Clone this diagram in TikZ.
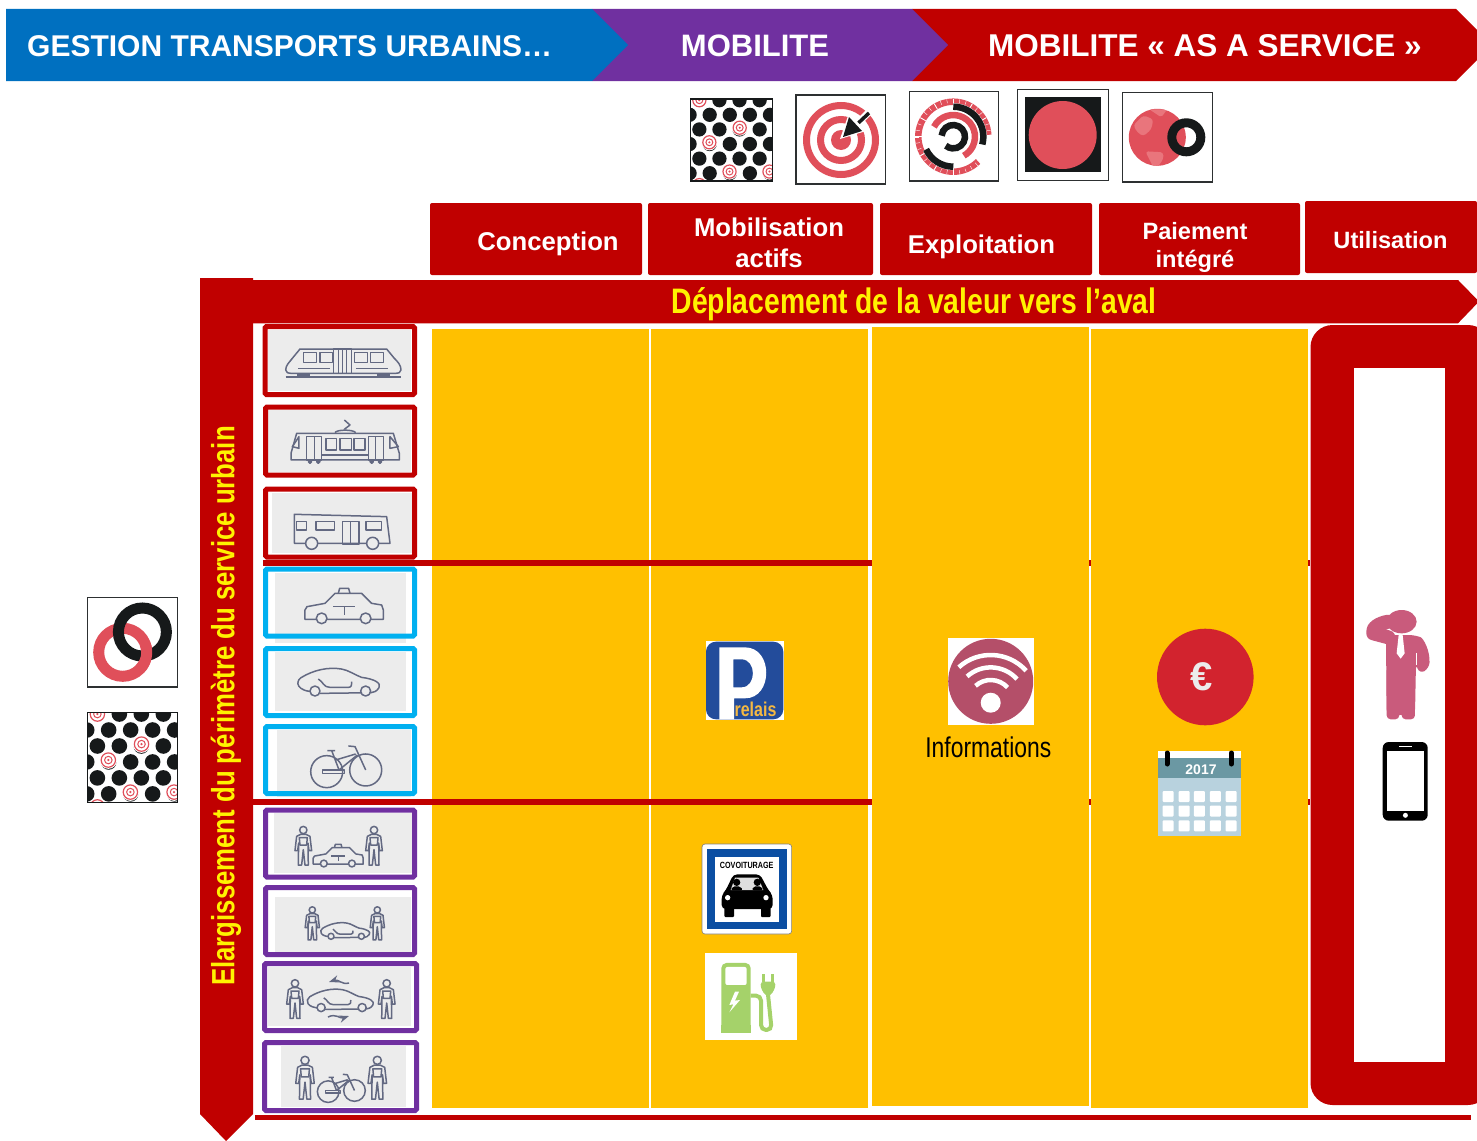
\documentclass[tikz,border=0pt]{standalone}
\usepackage{fontspec}
\setmainfont{Liberation Sans}
\newfontfamily\narrowfont[FakeStretch=0.8]{Liberation Sans}
\usetikzlibrary{arrows.meta}
\usetikzlibrary{calc}
\tikzset{>=Stealth}
\definecolor{darkred}{HTML}{C00000}
\definecolor{headblue}{HTML}{0070C0}
\definecolor{headpurple}{HTML}{7030A0}
\definecolor{colyellow}{HTML}{FFC000}
\definecolor{lightblue}{HTML}{00B0F0}
\definecolor{iconred}{HTML}{E04F5A}
\definecolor{globelight}{HTML}{E9757C}
\definecolor{iconblack}{HTML}{16191A}
\definecolor{boxgrey}{HTML}{ECECEC}
\definecolor{iconline}{HTML}{636982}
\definecolor{pink}{HTML}{C95B7C}
\definecolor{wifired}{HTML}{B44F69}
\definecolor{parkblue}{HTML}{234C9B}
\definecolor{signblue}{HTML}{0B4EA2}
\definecolor{plugreen}{HTML}{A5D26A}
\definecolor{euroRed}{HTML}{D2232E}
\definecolor{relaisgold}{HTML}{F5B942}
\definecolor{headteal}{HTML}{6B98A3}
\definecolor{bodyblue}{HTML}{B8D2DE}
\tikzset{
    headtext/.style={text=white, font=\fontsize{31}{31}\selectfont\bfseries, inner sep=0pt},
    colbox/.style={fill=darkred, rounded corners=2pt, inner sep=0pt, minimum height=72pt},
    coltext/.style={text=white, align=center, inner sep=0pt, font=\fontsize{25.7}{31}\selectfont\bfseries},
    yellowtext/.style={text=yellow, inner sep=0pt, font=\fontsize{35.4}{35.4}\selectfont\narrowfont\bfseries},
    iconframe/.style={draw=iconblack!90!white, line width=1.2pt, fill=white},
    vehicle/.style={draw=iconline, line width=1.5pt, line join=round},
    pics/dotpattern/.style={code={
        \begin{scope}
            \clip (0,0) rectangle (1,1);
            \foreach \r in {0,2,4,6}
                \foreach \c in {0,1,2,3}
                    \fill[iconblack] ({0.108+\c*0.245},{0.015+\r*0.178}) circle (0.087);
            \foreach \r in {1,3,5}
                \foreach \c in {0,1,2,3,4}
                    \fill[iconblack] ({-0.011+\c*0.245},{0.015+\r*0.178}) circle (0.087);
            \foreach \px/\py in {0.108/0.015, 0.6/0.35, 0.23/0.528, 0.476/0.885, 0.963/0.885, 0.108/1.05} {
                \fill[white] (\px,\py) circle (0.098);
                \draw[iconred, line width=1.2pt] (\px,\py) circle (0.08);
                \draw[iconred, line width=1pt] (\px,\py) circle (0.042);
                \fill[iconred] (\px,\py) circle (0.014);
            }
        \end{scope}
        \draw[iconblack, line width=1.2pt] (0,0) rectangle (1,1);
    }},
    pics/train/.style={code={
        \draw[vehicle] (92,150) .. controls (92,135) and (105,125) .. (112,115) -- (135,87) -- (395,87) -- (418,115) .. controls (428,125) and (438,135) .. (438,150) .. controls (438,158) and (430,160) .. (420,160) -- (110,160) .. controls (100,160) and (92,158) .. cycle;
        \foreach \xa/\xb in {145/185, 195/232, 298/337, 347/385}
            \draw[vehicle] (\xa,97) rectangle (\xb,127);
        \draw[vehicle] (235,87) rectangle (290,160);
        \draw[vehicle] (250,87) -- (250,160) (275,87) -- (275,160) (263,87) -- (263,160);
        \draw[vehicle] (130,145) -- (225,145) (303,145) -- (400,145);
        \draw[vehicle, line width=1.8pt] (92,170) -- (438,170);
        \draw[vehicle, line width=2.5pt] (125,164) -- (165,164) (365,164) -- (405,164);
    }},
    pics/tram/.style={code={
        \draw[vehicle] (125,340) -- (415,340) -- (433,400) -- (433,420) -- (108,420) -- (108,400) -- cycle;
        \draw[vehicle] (240,338) .. controls (245,328) and (295,328) .. (302,338);
        \draw[vehicle] (268,300) -- (285,315) -- (268,328);
        \draw[vehicle] (112,380) -- (132,350) -- (132,385) -- cycle (430,380) -- (405,350) -- (405,385) -- cycle;
        \foreach \xa/\xb in {155/178, 178/200, 340/362, 362/385}
            \draw[vehicle] (\xa,350) rectangle (\xb,420);
        \foreach \xa/\xb in {213/245, 255/290, 297/330}
            \draw[vehicle] (\xa,355) rectangle (\xb,390);
        \draw[vehicle] (200,405) -- (340,405);
        \foreach \xa in {165,190,350,375}
            \draw[vehicle, fill=iconline] (\xa,425) circle (5);
    }},
    pics/bus/.style={code={
        \draw[vehicle] (118,670) -- (118,583) -- (395,590) -- (405,670) -- cycle;
        \draw[vehicle] (125,605) rectangle (155,630);
        \draw[vehicle] (183,605) rectangle (238,630);
        \draw[vehicle] (333,605) rectangle (380,630);
        \draw[vehicle] (262,605) rectangle (312,672);
        \draw[vehicle] (287,605) -- (287,672);
        \draw[vehicle, fill=boxgrey] (170,670) circle (18);
        \draw[vehicle, fill=boxgrey] (353,670) circle (18);
    }},
    pics/taxi/.style={code={
        \draw[vehicle] (-118,43) -- (-118,15) -- (-112,5) -- (-58,-5) -- (-28,-35) -- (52,-35) -- (82,-5) -- (112,0) -- (117,15) -- (117,43) -- cycle;
        \draw[vehicle] (-18,-35) -- (-14,-50) -- (13,-50) -- (17,-35);
        \draw[vehicle] (-33,5) -- (32,5) (0,5) -- (0,30);
        \draw[vehicle, fill=boxgrey] (-68,40) circle (16);
        \draw[vehicle, fill=boxgrey] (64,40) circle (16);
    }},
    pics/sedan/.style={code={
        \draw[vehicle] (-70,30) .. controls (-125,30) and (-130,0) .. (-112,-12) .. controls (-75,-35) and (-30,-45) .. (10,-38) .. controls (30,-35) and (50,-20) .. (70,-13) .. controls (110,-8) and (130,5) .. (122,18) .. controls (115,30) and (105,32) .. (98,33) -- (-55,35);
        \draw[vehicle] (-60,-8) .. controls (-45,0) and (-45,17) .. (-25,17) -- (30,17) .. controls (40,17) and (40,10) .. (40,0);
        \draw[vehicle, fill=boxgrey] (-70,28) circle (15);
        \draw[vehicle, fill=boxgrey] (82,28) circle (15);
    }},
    pics/bike/.style={code={
        \draw[vehicle] (-57,25) circle (48);
        \draw[vehicle] (60,20) circle (48);
        \draw[vehicle] (-55,-38) -- (-32,-38) (-42,-38) -- (-20,20);
        \draw[vehicle] (-30,-10) -- (30,-28) (-20,20) -- (35,-25);
        \draw[vehicle] (8,-52) -- (28,-50) -- (60,20);
        \draw[vehicle] (-70,20) rectangle (-3,30);
    }},
    pics/person/.style={code={
        \draw[vehicle] (0,-47) circle (11);
        \draw[vehicle] (-8,-34) -- (-20,-28) -- (-25,15) -- (-17,15) -- (-14,-8) -- (-15,58) -- (-5,58) -- (0,12) -- (5,58) -- (15,58) -- (14,-8) -- (17,15) -- (25,15) -- (20,-28) -- (8,-34) -- cycle;
        \draw[vehicle] (-12,-24) -- (12,-24) -- (10,-2) -- (-10,-2) -- cycle;
    }},
    pics/targeticon/.style={code={
        \draw[iconred, line width=7pt] (0,0) circle (34.5);
        \draw[iconred, line width=7pt] (0,0) circle (20.5);
        \fill[iconred] (0,0) circle (10);
        \draw[white, line width=7pt] (6,-6) -- (30,-30);
        \draw[iconblack, line width=3.5pt] (12,-12) -- (28,-27);
        \fill[white] (-1,-1) -- (25,-9) -- (8,-27) -- cycle;
        \fill[iconblack] (2,-3) -- (21,-9) -- (8,-23) -- cycle;
    }},
    pics/dashicon/.style={code={
        \draw[iconred, line width=6.5pt] (45:35) arc[start angle=45, end angle=357, radius=35];
        \foreach \a in {50,60,...,350}
            \draw[white, line width=0.4pt] (\a:34) -- (\a:38);
        \foreach \a in {90,120,...,330}
            \draw[white, line width=0.8pt] (\a:31.7) -- (\a:38);
        \draw[white, line width=8pt] (270:29.5) arc[start angle=270, end angle=375, radius=29.5];
        \draw[white, line width=8pt] (90:29.5) arc[start angle=90, end angle=155, radius=29.5];
        \draw[iconblack, line width=6.5pt] (270:30) arc[start angle=270, end angle=375, radius=30];
        \draw[iconblack, line width=6.5pt] (90:30) arc[start angle=90, end angle=155, radius=30];
        \draw[iconred, line width=6.5pt] (207:21.7) arc[start angle=207, end angle=421, radius=21.7];
        \draw[iconblack, line width=6.5pt] (185:11.7) arc[start angle=185, end angle=490, radius=11.7];
    }},
    pics/globeicon/.style={code={
        \begin{scope}
            \fill[iconred] (0,0) circle (28.5);
            \clip (0,0) circle (28.5);
            \fill[globelight, rounded corners=3pt] (-24,-12) -- (-14,-22) -- (-4,-18) -- (-6,-8) -- (-14,-1) -- (-20,-5) -- cycle;
            \fill[globelight, rounded corners=3pt] (-12,14) -- (6,15) -- (6,22) -- (0,30) -- (-4,30) -- cycle;
            \fill[globelight, rounded corners=2pt] (-8,-28) -- (10,-28) -- (4,-20) -- cycle;
        \end{scope}
        \draw[iconblack, line width=9pt] (29,0) circle (14.5);
    }},
    pics/ringsicon/.style={code={
        \draw[iconred, line width=11pt] (0,0) circle (24);
        \draw[iconblack, line width=11pt] (19.7,-20.3) circle (24);
        \draw[iconred, line width=11pt] (-20:24) arc[start angle=-20, end angle=45, radius=24];
    }},
    pics/parkicon/.style={code={
        \fill[white] (48,33) rectangle (282,270);
        \fill[parkblue, rounded corners=10pt] (48,35) rectangle (280,268);
        \fill[white, even odd rule] (88,52) -- (165,52) .. controls (250,52) and (250,205) .. (165,205) -- (132,205) -- (132,268) -- (88,268) -- cycle
            (130,88) -- (155,88) .. controls (200,88) and (200,172) .. (155,172) -- (130,172) -- cycle;
    }},
    pics/covoicon/.style={code={
        \filldraw[fill=white, draw=gray, line width=0.6pt, rounded corners=3pt] (36,27) rectangle (305,297);
        \fill[signblue] (52,42) rectangle (290,282);
        \fill[white] (74,65) rectangle (268,260);
        \fill[black, rounded corners=4pt] (130,118) -- (210,118) -- (235,165) -- (248,180) -- (248,222) -- (95,222) -- (95,180) -- (108,165) -- cycle;
        \fill[black, rounded corners=1pt] (103,215) rectangle (132,246);
        \fill[black, rounded corners=1pt] (213,215) rectangle (242,246);
        \fill[white!75!gray] (135,128) -- (205,128) -- (220,165) -- (122,165) -- cycle;
        \fill[black] (140,142) circle (11);
        \fill[black] (202,142) circle (11);
        \fill[black, rounded corners=2pt] (122,166) -- (128,154) -- (152,154) -- (158,166) -- cycle;
        \fill[black, rounded corners=2pt] (186,166) -- (190,154) -- (214,154) -- (220,166) -- cycle;
        \fill[white] (113,188) circle (8);
        \fill[white] (228,188) circle (8);
    }},
    pics/chargeicon/.style={code={
        \fill[white] (45,354) rectangle (321,615);
        \fill[plugreen, rounded corners=5pt] (94,594) -- (94,384) -- (182,384) -- (182,594) -- cycle;
        \fill[plugreen] (94,570) rectangle (182,594);
        \fill[white, rounded corners=2pt] (106,396) rectangle (170,450);
        \fill[white] (135,470) -- (118,510) -- (130,508) -- (118,532) -- (150,495) -- (135,497) -- (147,470) -- cycle;
        \draw[plugreen, line width=4pt, rounded corners=5pt] (182,482) -- (213,482) -- (213,585) -- (245,585) -- (234,478);
        \fill[plugreen, rounded corners=3pt] (212,440) -- (256,440) -- (256,458) -- (242,482) -- (226,482) -- (212,458) -- cycle;
        \fill[plugreen] (216,418) rectangle (226,442);
        \fill[plugreen] (243,418) rectangle (253,442);
    }},
    pics/wifiicon/.style={code={
        \fill[white] (-42.7,-43.3) rectangle (43.3,43.7);
        \fill[wifired] (0,0) circle (42.5);
        \fill[white] (0,21.4) circle (10);
        \foreach \r in {22.7,35.3,47.7}
            \draw[white, line width=4.5pt] ($(0,21.4)+(228:\r)$) arc[start angle=228, end angle=318, radius=\r];
    }},
    pics/calendaricon/.style={code={
        \fill[white] (0,0) rectangle (83,84.7);
        \fill[headteal] (0,7.3) rectangle (83,26.7);
        \fill[bodyblue] (0,26.7) rectangle (83,84.7);
        \foreach \cx in {10,26,41.3,57.3,73}
            \foreach \cy in {45.5,60,74.8}
                \fill[white, rounded corners=1pt] ({\cx-5.5},{\cy-5.5}) rectangle ({\cx+5.5},{\cy+5.5});
        \draw[black, line width=5pt, line cap=round] (9,2) -- (9,13);
        \draw[black, line width=5pt, line cap=round] (73.3,2) -- (73.3,13);
    }},
    pics/manicon/.style={code={
        \fill[pink] (785,65) ellipse (45 and 35);
        \draw[pink, line width=14pt, line cap=round, line join=round] (745,65) .. controls (715,70) and (695,85) .. (700,100) -- (745,112);
        \fill[pink, rounded corners=6pt] (738,105) -- (825,105) .. controls (850,115) and (870,150) .. (868,205) -- (838,222) -- (828,190) -- (825,345) -- (740,345) -- cycle;
        \fill[pink, rounded corners=4pt] (740,200) rectangle (778,358);
        \fill[pink, rounded corners=4pt] (785,200) rectangle (825,358);
        \fill[white] (776,105) -- (788,105) -- (794,160) -- (782,176) -- (770,160) -- cycle;
        \fill[white] (828,160) rectangle (832,195);
    }},
    pics/phoneicon/.style={code={
        \fill[black, rounded corners=6pt] (0,0) rectangle (45,78.7);
        \fill[white] (4,8.7) rectangle (41.3,68.7);
        \fill[white] (16.7,3.7) rectangle (29,5);
        \fill[white] (22.7,73.3) circle (2.5);
    }}
}
\begin{document}
\begin{tikzpicture}[x=1pt, y=-1pt]
    \clip (0,0) rectangle (1477,1140);
    \fill[white] (0,0) rectangle (1477,1140);

    \fill[darkred] (912,9) -- (1456,9) -- (1492,45) -- (1456,81) -- (912,81) -- cycle;
    \fill[headpurple] (592,9) -- (912,9) -- (948,45) -- (912,81) -- (592,81) -- cycle;
    \fill[headblue] (6,9) -- (592,9) -- (628,45) -- (592,81) -- (6,81) -- cycle;
    \node[headtext, anchor=west, font=\fontsize{30}{30}\selectfont\bfseries] (gestion) at (27,46) {GESTION TRANSPORTS URBAINS…};
    \node[headtext] (mobilite) at (755,46) {MOBILITE};
    \node[headtext, anchor=west, font=\fontsize{31.5}{31.5}\selectfont\bfseries] (service) at (988,46) {MOBILITE « AS A SERVICE »};

    \pic[scale=82] at (690.5,99) {dotpattern};
    \filldraw[iconframe] (796,95) rectangle (885.5,184);
    \pic at (841,140) {targeticon};
    \filldraw[iconframe] (909.5,91.7) rectangle (998.5,181);
    \pic at (953.3,136.7) {dashicon};
    \filldraw[iconframe] (1017.7,89.7) rectangle (1108.3,180.3);
    \fill[iconblack] (1025,97.3) rectangle (1100.7,172.3);
    \fill[iconred] (1062.7,135) circle (34);
    \filldraw[iconframe] (1122.7,92.3) rectangle (1212.3,182);
    \pic at (1157.3,137.3) {globeicon};

    \node[colbox, minimum width=212pt] (conceptionbox) at (536,239) {};
    \node[colbox, minimum width=225pt] (actifsbox) at (760.5,239) {};
    \node[colbox, minimum width=212pt] (exploitationbox) at (986,239) {};
    \node[colbox, minimum width=201pt] (paiementbox) at (1199.5,239) {};
    \node[colbox, minimum width=172pt] (utilisationbox) at (1391,237) {};
    \node[coltext] (conception) at (548,244) {Conception};
    \node[coltext] (actifs) at (769,243) {Mobilisation\\ actifs};
    \node[coltext] (exploitation) at (981.5,246.5) {Exploitation};
    \node[coltext, font=\fontsize{23.6}{28}\selectfont\bfseries] (paiement) at (1195,247) {Paiement\\ intégré};
    \node[coltext, font=\fontsize{23.6}{28}\selectfont\bfseries] (utilisation) at (1390.5,240) {Utilisation};

    \fill[darkred] (252,280) -- (1458,280) -- (1479,301.5) -- (1458,323.3) -- (252,323.3) -- cycle;
    \fill[darkred] (200,278) -- (253,278) -- (253,1114) -- (226,1141) -- (200,1114) -- cycle;
    \node[yellowtext] (deplacement) at (914,304.5) {Déplacement de la valeur vers l’aval};
    \node[yellowtext, rotate=90, font=\fontsize{32.2}{32.2}\selectfont\narrowfont\bfseries] (elargissement) at (226,706) {Elargissement du périmètre du service urbain};

    \fill[colyellow] (432,329) rectangle (649,1108);
    \fill[colyellow] (651,329) rectangle (868,1108);
    \fill[darkred] (263,560) rectangle (1310,565.7);
    \fill[darkred] (252,799.3) rectangle (1310,805);
    \fill[colyellow] (872,327) rectangle (1089,1106);
    \fill[colyellow] (1091,329) rectangle (1308,1108);
    \fill[darkred] (255,1114.5) rectangle (1471,1119.5);

    \fill[darkred, rounded corners=22pt] (1310.5,325) rectangle (1490,1105);
    \fill[white] (1353.5,368.3) rectangle (1445,1062);

    \foreach \xa/\ya/\xb/\yb/\gxa/\gya/\gxb/\gyb/\col in {
        265/326.5/414.5/394.5/268/330/411/391/darkred,
        265.5/407/414.5/475/268/410/411/472/darkred,
        265.5/489/414.5/557/272/493/412/553/darkred,
        265.5/569/414.5/636/275/573/406/643/lightblue,
        265.5/648.5/414.5/715.5/275/652/406/711/lightblue,
        265.5/726.5/414.5/793.5/277/730/411/797/lightblue,
        265.5/810/414.5/877/274/813/412/873/headpurple,
        265.5/887.5/414.5/954.5/275/897/411/952/headpurple,
        264.5/963.5/416.5/1030.5/268/967/411/1026/headpurple,
        264.5/1042.5/416.5/1110.5/281/1046/406/1107/headpurple} {
        \fill[boxgrey] (\gxa,\gya) rectangle (\gxb,\gyb);
        \draw[\col, line width=5pt, rounded corners=1.5pt] (\xa,\ya) rectangle (\xb,\yb);
    }

    \pic[scale=0.3333] at (255,320) {train};
    \pic[scale=0.3333] at (255,320) {tram};
    \pic[scale=0.3333] at (255,320) {bus};
    \pic[scale=0.3333] at (344.3,605) {taxi};
    \pic[scale=0.3333] at (338.3,681.7) {sedan};
    \pic[scale=0.3333] at (345.7,763.3) {bike};

    \pic[scale=0.3333] at (303.3,845.7) {person};
    \pic[scale=0.3333] at (374,845.7) {person};
    \pic[scale=0.213] at (338.3,855) {taxi};
    \pic[scale=0.285] at (312.3,923.3) {person};
    \pic[scale=0.285] at (377.3,923.3) {person};
    \pic[scale=0.2] at (345,930.7) {sedan};
    \pic[scale=0.3333] at (295,999) {person};
    \pic[scale=0.3333] at (386.7,999) {person};
    \pic[scale=0.27] at (340,1000) {sedan};
    \draw[vehicle, ->] (349,983) .. controls (342,985) and (338,979) .. (329,982);
    \draw[vehicle, ->] (328,1017) .. controls (336,1013) and (340,1019) .. (349,1016);
    \pic[scale=0.37] at (305,1077.7) {person};
    \pic[scale=0.37] at (377.3,1077.7) {person};
    \pic[scale=0.225] at (341,1086) {bike};

    \pic[scale=0.3333] at (690,630) {parkicon};
    \node[text=relaisgold, inner sep=0pt, font=\fontsize{20}{20}\selectfont\narrowfont\bfseries] (relais) at (755.5,709) {relais};

    \pic[scale=0.3333] at (690,835) {covoicon};
    \node[text=black, inner sep=0pt, font=\fontsize{9}{9}\selectfont\narrowfont\bfseries] (covoiturage) at (746.7,865.5) {COVOITURAGE};
    \pic[scale=0.3333] at (690,835) {chargeicon};

    \pic at (990.7,681.3) {wifiicon};
    \node[inner sep=0pt, font=\fontsize{28.6}{28.6}\selectfont\narrowfont] (informations) at (988.3,747) {Informations};

    \fill[euroRed] (1205.3,677) circle (48.3);
    \node[text=boxgrey, inner sep=0pt, font=\fontsize{40}{40}\selectfont\bfseries] (euro) at (1201.7,677) {€};
    \pic at (1158,751) {calendaricon};
    \node[text=white, inner sep=0pt, font=\fontsize{14}{14}\selectfont\bfseries] (annee) at (1201,769.5) {2017};

    \pic[scale=0.3333] at (1140,600) {manicon};
    \pic at (1382.7,742) {phoneicon};

    \filldraw[iconframe] (87.7,597.7) rectangle (177.3,687);
    \pic at (122.7,652.3) {ringsicon};
    \pic[scale=89.7] at (87.7,712.7) {dotpattern};
\end{tikzpicture}
\end{document}
